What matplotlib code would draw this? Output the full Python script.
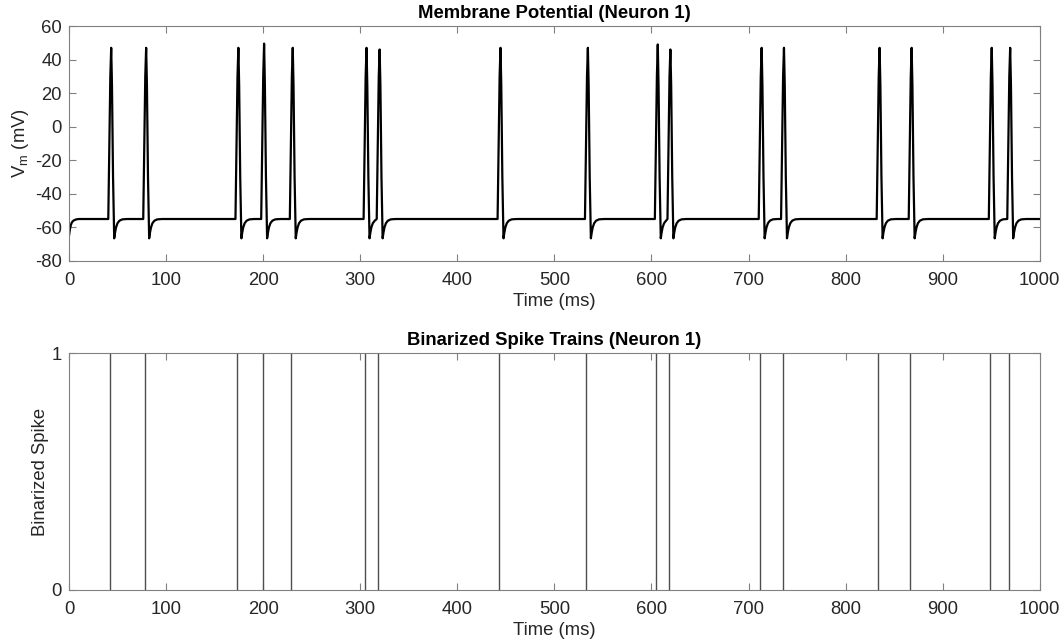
import matplotlib
matplotlib.use('Agg')
import matplotlib.pyplot as plt
import numpy as np

plt.rcParams['font.family'] = ['Liberation Sans', 'DejaVu Sans']
plt.rcParams['mathtext.fontset'] = 'custom'
plt.rcParams['mathtext.rm'] = 'Liberation Sans'
plt.rcParams['mathtext.it'] = 'Liberation Sans'
plt.rcParams['axes.unicode_minus'] = False

spike_times = [42, 78, 173, 199.5, 229, 305, 318.5, 443, 533, 605, 618,
               712, 735, 833.5, 866.5, 949, 968]
spike_peaks = [47, 47, 47, 49.5, 47, 47, 46, 47, 47, 49, 46,
               47, 47, 47, 47, 47, 47]

# start of the trace (ms, mV)
start_t = [0, 1, 2, 3, 4.5, 7, 10]
start_v = [-65, -61, -58.5, -57, -56, -55.3, -55]

# one action potential: offset from spike time (ms), voltage (mV)
ap_dt = [-1.5, -0.6, 0.6, 1.5, 2.3, 3.4, 4.6, 5.5, 6.5, 8, 10, 13, 18]
ap_v = [-55, -20, 30, None, 25, -30, -66.5, -63, -60, -57.5, -56, -55.2, -55]

rest_v = -55
t_end = 1000

# stitch the trace together
tt = list(start_t)
vv = list(start_v)
for i, (ts, pk) in enumerate(zip(spike_times, spike_peaks)):
    nxt = spike_times[i + 1] - 1.5 if i + 1 < len(spike_times) else t_end
    for dt, v in zip(ap_dt, ap_v):
        t = ts + dt
        if t >= nxt and dt > 0:
            break
        tt.append(t)
        vv.append(pk if v is None else v)
    if tt[-1] < nxt:
        tt.append(nxt)
        vv.append(rest_v if vv[-1] > -57 else vv[-1])
tt.append(t_end)
vv.append(rest_v)

fig = plt.figure(figsize=(10.61, 6.42), dpi=100)
ax1 = fig.add_axes([0.065, 0.5935, 0.915, 0.366])
ax2 = fig.add_axes([0.065, 0.081, 0.915, 0.369])

spine_col = '0.5'
txt_col = '0.15'
fs = 13.3

ax1.plot(tt, vv, color='black', lw=1.6)
ax1.set_xlim(0, 1000)
ax1.set_ylim(-80, 60)
ax1.set_yticks(np.arange(-80, 61, 20))
ax1.set_title('Membrane Potential (Neuron 1)', fontsize=fs, fontweight='bold', pad=6)
ax1.set_ylabel(r'V$_{\rm m}$ (mV)', fontsize=fs, color=txt_col, labelpad=3)
ax1.set_xlabel('Time (ms)', fontsize=fs, color=txt_col, labelpad=3)

ax2.vlines(spike_times, 0, 1, color='0.3', lw=1)
ax2.set_xlim(0, 1000)
ax2.set_ylim(0, 1)
ax2.set_yticks([0, 1])
ax2.set_title('Binarized Spike Trains (Neuron 1)', fontsize=fs, fontweight='bold', pad=6)
ax2.set_ylabel('Binarized Spike', fontsize=fs, color=txt_col, labelpad=2)
ax2.set_xlabel('Time (ms)', fontsize=fs, color=txt_col, labelpad=3)

for ax in (ax1, ax2):
    ax.set_xticks(np.arange(0, 1001, 100))
    ax.tick_params(direction='in', top=True, right=True, length=5, width=0.8,
                   color=spine_col, labelcolor=txt_col, labelsize=fs, pad=5)
    ax.tick_params(axis='x', pad=8)
    for s in ax.spines.values():
        s.set_color(spine_col)
        s.set_linewidth(0.8)

fig.savefig('out.png', dpi=100)
